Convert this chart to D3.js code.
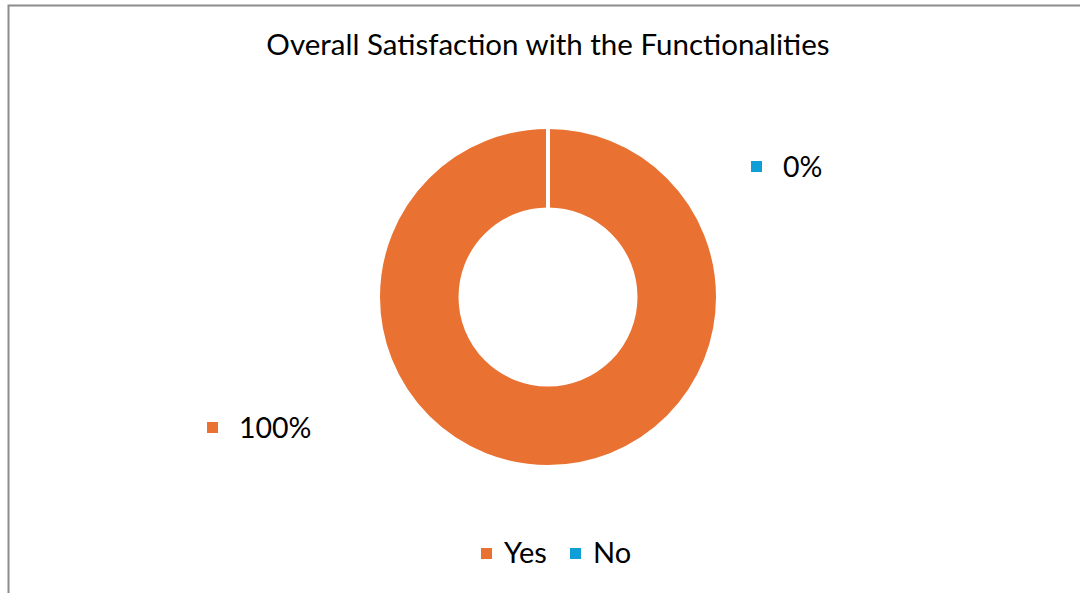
<!DOCTYPE html>
<html><head><meta charset="utf-8">
<script src="https://cdn.jsdelivr.net/npm/d3@7"></script>
<style>html,body{margin:0;padding:0;background:#fff;}svg{display:block;}</style>
</head><body>
<svg id="c" width="1080" height="593"></svg>
<script>
const title = "Overall Satisfaction with the Functionalities";
const categories = ["Yes", "No"];
const values = [100, 0];
const dataLabels = ["100%", "0%"];
const colors = ["#E97132", "#0F9ED5"];

const svg = d3.select("#c");
const font = "Lato, 'Open Sans', sans-serif";

// chart border (left & top visible)
svg.append("path").attr("d", "M8.5,593 L8.5,5.5 L1080,5.5")
  .attr("fill", "none").attr("stroke", "#8c8c8c").attr("stroke-width", 2);

svg.append("text").attr("x", 548).attr("y", 55).attr("text-anchor", "middle")
  .attr("font-family", font).attr("font-size", 29.5).attr("fill", "#000").text(title);

const cx = 548, cy = 297, rOut = 170, rIn = 87.5;
const pie = d3.pie().sort(null).value(d => d.v);
const arcs = pie(categories.map((c, i) => ({c, v: values[i], i})));
const arc = d3.arc().innerRadius(rIn).outerRadius(rOut);
const g = svg.append("g").attr("transform", `translate(${cx},${cy})`);
g.selectAll("path").data(arcs).join("path")
  .attr("d", arc).attr("fill", d => colors[d.data.i])
  .attr("stroke", "#fff").attr("stroke-width", 4).attr("stroke-linejoin", "miter");

// data labels with colour keys
const labelPos = [[207, 438], [751, 177]];
arcs.forEach((d, i) => {
  const [x, y] = labelPos[i];
  svg.append("rect").attr("x", x).attr("y", y - 16).attr("width", 11).attr("height", 11).attr("fill", colors[i]);
  svg.append("text").attr("x", x + 32).attr("y", y).attr("font-family", font)
    .attr("font-size", 28.5).attr("fill", "#000").text(dataLabels[i]);
});

// legend
const legendX = [481, 570];
categories.forEach((c, i) => {
  svg.append("rect").attr("x", legendX[i]).attr("y", 548).attr("width", 11).attr("height", 11).attr("fill", colors[i]);
  svg.append("text").attr("x", legendX[i] + 23).attr("y", 563).attr("font-family", font)
    .attr("font-size", 29).attr("fill", "#000").text(c);
});
</script>
</body></html>
